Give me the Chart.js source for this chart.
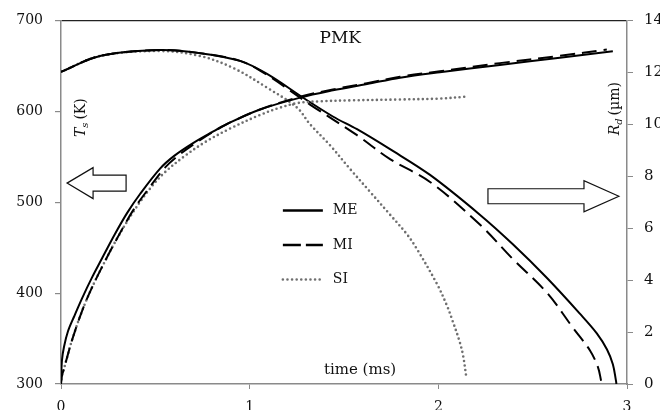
<!DOCTYPE html>
<html lang="en">
<head>
<meta charset="UTF-8">
<title>PMK</title>
<script src="https://cdn.jsdelivr.net/npm/chart.js"></script>
<style>
  html, body { margin: 0; padding: 0; background: #fff; }
  .wrap { width: 660px; height: 410px; overflow: hidden; }
  canvas { display: block; }
</style>
</head>
<body>
<div class="wrap"><canvas id="chart" width="680" height="425"></canvas></div>
<script>
// droplet surface temperature Ts (K) vs time (ms)
const tsME = [[0,300],[0.005,326],[0.016,341],[0.037,358],[0.069,374],[0.111,394],[0.164,417],[0.217,438],[0.286,465],[0.35,488],[0.419,509],[0.525,537],[0.6,551],[0.7,565],[0.8,577],[0.88,586],[1.055,602],[1.267,615],[1.441,623],[1.622,630],[1.797,637],[2.008,643],[2.326,651],[2.644,659],[2.925,666]];
const tsMI = [[0,300],[0.005,309],[0.016,317],[0.032,329],[0.058,348],[0.111,380],[0.164,406],[0.233,435],[0.297,460],[0.382,491],[0.472,517],[0.551,538],[0.62,551],[0.72,566],[0.82,579],[0.9,588],[1.055,602],[1.267,616],[1.441,624],[1.622,631],[1.797,638],[2.008,644],[2.326,653],[2.644,661],[2.893,668]];
const tsSI = [[0,300],[0.005,309],[0.016,317],[0.032,329],[0.058,348],[0.111,380],[0.164,406],[0.233,435],[0.297,460],[0.382,489],[0.472,515],[0.551,533],[0.657,551],[0.763,566],[0.896,581],[1.055,596],[1.161,604],[1.251,609],[1.373,611],[1.532,612],[1.797,613],[2.008,614],[2.141,616]];

// droplet radius Rd (um) vs time (ms)
const rdME = [[0,12.02],[0.207,12.63],[0.525,12.86],[0.737,12.74],[0.949,12.44],[1.092,11.94],[1.282,11.03],[1.441,10.3],[1.569,9.81],[1.744,9.04],[1.956,8.05],[2.22,6.52],[2.395,5.38],[2.576,4.08],[2.75,2.71],[2.84,1.95],[2.894,1.33],[2.925,0.76],[2.941,0.15],[2.944,0]];
const rdMI = [[0,12.02],[0.207,12.63],[0.525,12.86],[0.737,12.74],[0.949,12.44],[1.092,11.9],[1.32,10.76],[1.569,9.58],[1.744,8.66],[1.956,7.78],[2.22,6.14],[2.395,4.81],[2.576,3.51],[2.713,2.17],[2.803,1.3],[2.846,0.65],[2.862,0.15],[2.865,0]];
const rdSI = [[0,12.02],[0.207,12.63],[0.525,12.82],[0.737,12.63],[0.912,12.17],[1.092,11.41],[1.251,10.64],[1.32,10.0],[1.426,9.19],[1.532,8.28],[1.638,7.4],[1.744,6.52],[1.834,5.76],[1.887,5.19],[1.993,3.85],[2.046,3.01],[2.077,2.4],[2.109,1.72],[2.13,1.14],[2.149,0.23]];

const tempTicks = [300, 400, 500, 600, 700];
const radiusTicks = [0, 2, 4, 6, 8, 10, 12, 14];
const timeTicks = [0, 1, 2, 3];

const serif = "'DejaVu Serif', 'Liberation Serif', serif";
const axisGray = '#8a8a8a';

const styles = {
  ME: { borderColor: '#000', borderWidth: 2, borderDash: [] },
  MI: { borderColor: '#000', borderWidth: 2, borderDash: [15, 7] },
  SI: { borderColor: '#6f6f6f', borderWidth: 2.6, borderDash: [0, 4.6], borderCapStyle: 'round' }
};

function toXY(pairs) {
  return pairs.map(p => ({ x: p[0], y: p[1] }));
}

function series(name, pairs, axis) {
  return Object.assign({
    label: name,
    data: toXY(pairs),
    yAxisID: axis,
    showLine: true,
    pointRadius: 0,
    fill: false,
    tension: 0.35
  }, styles[name]);
}

// draw a run of text pieces (italic / subscript) starting at x
function richText(ctx, parts, x, y) {
  parts.forEach(p => {
    const size = p.sub ? 10 : 14;
    ctx.font = (p.italic ? 'italic ' : '') + size + 'px ' + serif;
    ctx.fillText(p.text, x, y + (p.sub ? 3 : 0));
    x += ctx.measureText(p.text).width + (p.gap || 0);
  });
}

function richWidth(ctx, parts) {
  let w = 0;
  parts.forEach(p => {
    ctx.font = (p.italic ? 'italic ' : '') + (p.sub ? 10 : 14) + 'px ' + serif;
    w += ctx.measureText(p.text).width + (p.gap || 0);
  });
  return w;
}

function verticalTitle(ctx, parts, cx, cy) {
  ctx.save();
  ctx.translate(cx, cy);
  ctx.rotate(-Math.PI / 2);
  ctx.textBaseline = 'alphabetic';
  richText(ctx, parts, -richWidth(ctx, parts) / 2, 5);
  ctx.restore();
}

function arrow(ctx, tipX, baseX, endX, cy, headHalf, shaftHalf) {
  ctx.beginPath();
  ctx.moveTo(tipX, cy);
  ctx.lineTo(baseX, cy - headHalf);
  ctx.lineTo(baseX, cy - shaftHalf);
  ctx.lineTo(endX, cy - shaftHalf);
  ctx.lineTo(endX, cy + shaftHalf);
  ctx.lineTo(baseX, cy + shaftHalf);
  ctx.lineTo(baseX, cy + headHalf);
  ctx.closePath();
  ctx.fillStyle = '#fff';
  ctx.fill();
  ctx.strokeStyle = '#111';
  ctx.lineWidth = 1.2;
  ctx.stroke();
}

const annotations = {
  id: 'annotations',
  afterDatasetsDraw(chart) {
    const ctx = chart.ctx;
    const sx = chart.scales.x, sy = chart.scales.y, sr = chart.scales.y1;
    ctx.save();
    ctx.fillStyle = '#111';
    ctx.textAlign = 'center';
    ctx.textBaseline = 'middle';
    ctx.font = '17px ' + serif;
    ctx.fillText('PMK', sx.getPixelForValue(1.48), sy.getPixelForValue(680));
    ctx.font = '15px ' + serif;
    ctx.fillText('time (ms)', sx.getPixelForValue(1.585), sy.getPixelForValue(315));
    ctx.textAlign = 'left';

    verticalTitle(ctx, [{ text: 'T', italic: true }, { text: 's', italic: true, sub: true, gap: 3 }, { text: '(K)' }],
      sx.getPixelForValue(0.1), sy.getPixelForValue(593));
    verticalTitle(ctx, [{ text: 'R', italic: true }, { text: 'd', italic: true, sub: true, gap: 3 }, { text: '(\u00b5m)' }],
      sx.getPixelForValue(2.998) - 13, sr.getPixelForValue(10.6));

    // arrows pointing to the axis each group belongs to
    arrow(ctx, sx.getPixelForValue(0.032), sx.getPixelForValue(0.17), sx.getPixelForValue(0.345),
      sy.getPixelForValue(521), 15.5, 8);
    arrow(ctx, sx.getPixelForValue(2.957), sx.getPixelForValue(2.772), sx.getPixelForValue(2.263),
      sr.getPixelForValue(7.23), 15.5, 7.5);

    // legend, styled from the radius datasets
    const x0 = sx.getPixelForValue(1.176), x1 = sx.getPixelForValue(1.388);
    chart.data.datasets.slice(3).forEach((ds, i) => {
      const yy = sr.getPixelForValue(6.68) + i * 34.5;
      ctx.beginPath();
      ctx.setLineDash(ds.label === 'MI' ? [18, 5] : ds.borderDash);
      ctx.lineCap = ds.borderCapStyle || 'butt';
      ctx.strokeStyle = ds.borderColor;
      ctx.lineWidth = ds.label === 'SI' ? 2.6 : 2.4;
      ctx.moveTo(x0, yy);
      ctx.lineTo(x1, yy);
      ctx.stroke();
      ctx.setLineDash([]);
      ctx.fillStyle = '#111';
      ctx.font = '14px ' + serif;
      ctx.textBaseline = 'middle';
      ctx.fillText(ds.label, x1 + 10, yy);
    });
    ctx.restore();
  }
};

const tickFont = { family: serif, size: 14 };

new Chart(document.getElementById('chart'), {
  type: 'scatter',
  data: {
    datasets: [
      series('ME', tsME, 'y'),
      series('MI', tsMI, 'y'),
      series('SI', tsSI, 'y'),
      series('ME', rdME, 'y1'),
      series('MI', rdMI, 'y1'),
      series('SI', rdSI, 'y1')
    ]
  },
  options: {
    responsive: false,
    animation: false,
    devicePixelRatio: 1,
    layout: { padding: { top: 17, left: 0, right: 0, bottom: 0 } },
    plugins: { legend: { display: false }, tooltip: { enabled: false } },
    scales: {
      x: {
        type: 'linear',
        min: 0, max: 3,
        afterBuildTicks: s => { s.ticks = timeTicks.map(v => ({ value: v })); },
        afterFit: s => { s.height = 41; },
        ticks: { font: tickFont, color: '#111', padding: 10, maxRotation: 0 },
        grid: { drawOnChartArea: false, tickLength: 5, tickColor: axisGray },
        border: { color: axisGray, width: 1.5 }
      },
      y: {
        position: 'left',
        min: 300, max: 700,
        afterBuildTicks: s => { s.ticks = tempTicks.map(v => ({ value: v })); },
        afterFit: s => { s.width = 61; },
        ticks: { font: tickFont, color: '#111', padding: 12 },
        grid: {
          color: c => (c.tick && c.tick.value === 700 ? '#222' : 'rgba(0,0,0,0)'),
          lineWidth: 1.2,
          tickLength: 6,
          tickColor: axisGray
        },
        border: { color: axisGray, width: 1.5 }
      },
      y1: {
        position: 'right',
        min: 0, max: 14,
        afterBuildTicks: s => { s.ticks = radiusTicks.map(v => ({ value: v })); },
        afterFit: s => { s.width = 53; },
        ticks: { font: { family: serif, size: 15 }, color: '#111', padding: 11 },
        grid: { drawOnChartArea: false, tickLength: 6, tickColor: axisGray },
        border: { color: axisGray, width: 1.5 }
      }
    }
  },
  plugins: [annotations]
});
</script>
</body>
</html>
